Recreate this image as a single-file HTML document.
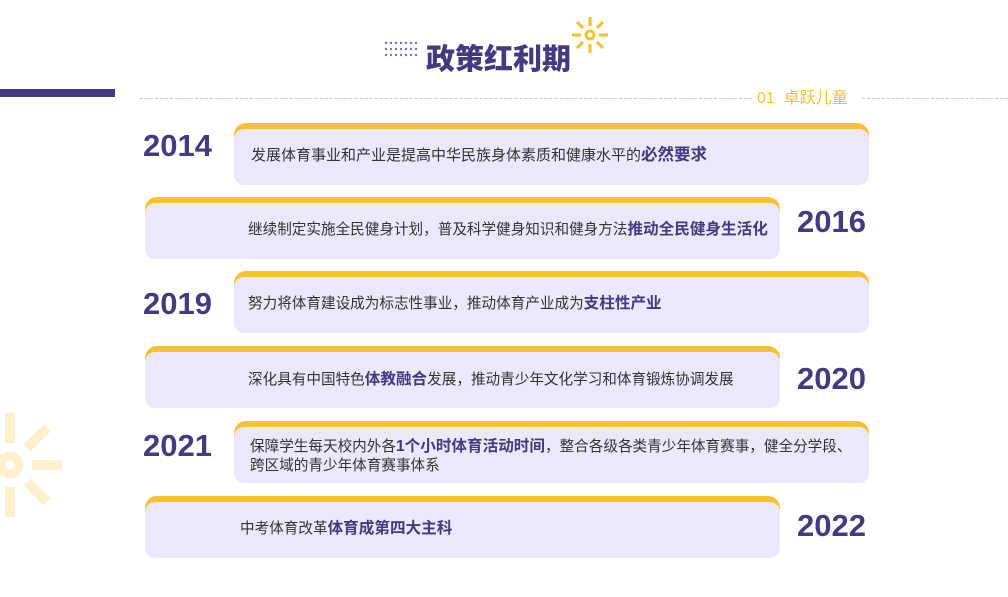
<!DOCTYPE html>
<html><head><meta charset="utf-8"><style>
*{margin:0;padding:0;box-sizing:border-box}
body{width:1008px;height:597px;background:#fff;position:relative;overflow:hidden;font-family:"Liberation Sans","Noto Sans CJK SC",sans-serif}
.a{position:absolute}
.card{position:absolute;background:#f6c22f;border-radius:12px;width:635px;height:62px}
.card .in{position:absolute;left:0;right:0;top:6px;bottom:0;background:#ebe8fb;border-radius:10px}
.t{position:absolute;font-size:14.6px;color:#333;white-space:nowrap;line-height:20px}
.t b{color:#45397f;font-size:15.6px}
.y{position:absolute;font-size:31px;font-weight:bold;color:#45397f;line-height:36px}
</style></head><body>
<div class="a" style="left:0;top:89px;width:115px;height:8px;background:#45397f"></div>
<div class="a" style="left:140px;top:98px;width:612px;border-top:1px dashed #c8c8c8"></div>
<div class="a" style="left:862px;top:98px;width:146px;border-top:1px dashed #c8c8c8"></div>
<div class="a" style="left:757px;top:89px;font-size:16px;color:#f6c22f;white-space:nowrap;line-height:20px">01&nbsp;&nbsp;卓跃儿童</div>
<svg class="a" style="left:384px;top:41px" width="34" height="16">
<g fill="#7b6fc4"><circle cx="2" cy="2" r="1.2"/><circle cx="7" cy="2" r="1.2"/><circle cx="12" cy="2" r="1.2"/><circle cx="17" cy="2" r="1.2"/><circle cx="22" cy="2" r="1.2"/><circle cx="27" cy="2" r="1.2"/><circle cx="32" cy="2" r="1.2"/>
<circle cx="2" cy="8" r="1.2"/><circle cx="7" cy="8" r="1.2"/><circle cx="12" cy="8" r="1.2"/><circle cx="17" cy="8" r="1.2"/><circle cx="22" cy="8" r="1.2"/><circle cx="27" cy="8" r="1.2"/><circle cx="32" cy="8" r="1.2"/>
<circle cx="2" cy="14" r="1.2"/><circle cx="7" cy="14" r="1.2"/><circle cx="12" cy="14" r="1.2"/><circle cx="17" cy="14" r="1.2"/><circle cx="22" cy="14" r="1.2"/><circle cx="27" cy="14" r="1.2"/><circle cx="32" cy="14" r="1.2"/></g></svg>
<div class="a" style="left:426px;top:41px;font-size:29px;font-weight:900;color:#45397f;line-height:38px;white-space:nowrap">政策红利期</div>
<svg class="a" style="left:570px;top:15px" width="40" height="40" viewBox="-20 -20 40 40">
<g stroke="#f6c22f" stroke-width="3.2"><circle cx="0" cy="0" r="4" fill="none" stroke-width="3"/>
<line x1="0" y1="-9" x2="0" y2="-18"/><line x1="0" y1="9" x2="0" y2="18"/><line x1="9" y1="0" x2="18" y2="0"/><line x1="-9" y1="0" x2="-18" y2="0"/>
<line x1="7" y1="-7" x2="13" y2="-13"/><line x1="-7" y1="-7" x2="-13" y2="-13"/><line x1="7" y1="7" x2="13" y2="13"/><line x1="-7" y1="7" x2="-13" y2="13"/></g></svg>
<svg class="a" style="left:0;top:410px" width="70" height="115" viewBox="-10 -55 70 115">
<g stroke="#fdf0cc" stroke-width="10"><circle cx="0" cy="0" r="9" fill="none" stroke-width="9"/>
<line x1="0" y1="-22" x2="0" y2="-52"/><line x1="0" y1="22" x2="0" y2="52"/><line x1="22" y1="0" x2="52" y2="0"/>
<line x1="17" y1="-17" x2="37" y2="-37"/><line x1="17" y1="17" x2="37" y2="37"/></g></svg>

<div class="card" style="left:234px;top:123px"><div class="in"></div></div>
<div class="t" style="left:251px;top:145px;font-size:15px">发展体育事业和产业是提高中华民族身体素质和健康水平的<b style="font-size:16.5px">必然要求</b></div>
<div class="y" style="left:143px;top:128px">2014</div>

<div class="card" style="left:145px;top:197px"><div class="in"></div></div>
<div class="t" style="left:248px;top:220px">继续制定实施全民健身计划，普及科学健身知识和健身方法<b>推动全民健身生活化</b></div>
<div class="y" style="left:797px;top:204px">2016</div>

<div class="card" style="left:234px;top:271px"><div class="in"></div></div>
<div class="t" style="left:248px;top:294px">努力将体育建设成为标志性事业，推动体育产业成为<b>支柱性产业</b></div>
<div class="y" style="left:143px;top:286px">2019</div>

<div class="card" style="left:145px;top:346px"><div class="in"></div></div>
<div class="t" style="left:248px;top:370px">深化具有中国特色<b>体教融合</b>发展，推动青少年文化学习和体育锻炼协调发展</div>
<div class="y" style="left:797px;top:361px">2020</div>

<div class="card" style="left:234px;top:421px"><div class="in"></div></div>
<div class="t" style="left:250px;top:437px;line-height:19px">保障学生每天校内外各<b>1个小时体育活动时间</b>，整合各级各类青少年体育赛事，健全分学段、<br>跨区域的青少年体育赛事体系</div>
<div class="y" style="left:143px;top:428px">2021</div>

<div class="card" style="left:145px;top:496px"><div class="in"></div></div>
<div class="t" style="left:240px;top:519px">中考体育改革<b>体育成第四大主科</b></div>
<div class="y" style="left:797px;top:508px">2022</div>
</body></html>
